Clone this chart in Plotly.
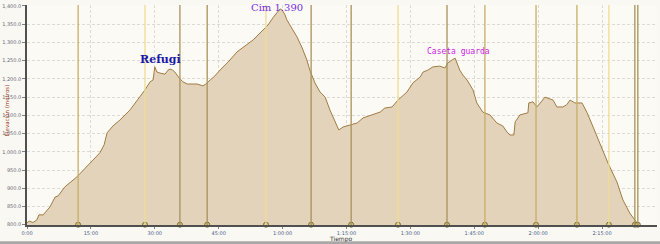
import plotly.graph_objects as go

# Elevation profile: time (minutes) and elevation (m)
time_min = [0, 0.5, 1.4, 2.3, 2.8, 3.8, 5.4, 6.6, 7.3, 8.9, 11.7, 14.8, 17.1, 18.1, 18.8, 20.2, 21.8,
            24.2, 26.5, 27.7, 28.9, 29.6, 30.0, 30.5, 31.2, 32.4, 33.1, 33.6, 34.2, 34.7, 35.7, 36.6,
            37.6, 39.9, 41.3, 42.0, 43.0, 44.1, 45.3, 47.2, 49.3, 51.2, 53.1, 55.4, 56.6, 57.7, 58.9,
            59.4, 59.9, 60.6, 61.0, 62.2, 63.4, 64.6, 65.7, 66.4, 67.6, 68.8, 70.0, 71.1, 72.3, 73.2,
            74.2, 75.8, 77.5, 78.9, 81.0, 82.9, 84.0, 85.7, 87.1, 89.2, 90.6, 92.3, 93.0, 94.1, 95.3,
            96.9, 98.1, 98.8, 99.8, 100.5, 101.6, 102.3, 103.3, 104.0, 104.7, 105.6, 107.0, 108.7,
            110.3, 111.7, 112.7, 113.4, 114.3, 114.6, 115.7, 117.6, 117.8, 118.8, 119.7, 120.7, 121.6,
            123.5, 124.4, 125.8, 126.7, 127.5, 128.6, 130.3, 131.5, 132.9, 134.5, 136.4, 138.5, 139.9,
            141.5, 143.2]
elevation = [805, 810, 806, 813, 827, 827, 849, 876, 879, 904, 931, 969, 997, 1019, 1052, 1071, 1087,
             1115, 1150, 1170, 1192, 1197, 1233, 1219, 1216, 1213, 1224, 1227, 1224, 1219, 1203, 1192,
             1186, 1186, 1181, 1186, 1197, 1208, 1224, 1246, 1274, 1290, 1307, 1334, 1348, 1367, 1384,
             1392, 1389, 1375, 1362, 1340, 1315, 1285, 1252, 1224, 1189, 1164, 1150, 1115, 1082, 1060,
             1068, 1074, 1079, 1093, 1101, 1109, 1120, 1123, 1142, 1164, 1189, 1205, 1219, 1224, 1233,
             1235, 1230, 1244, 1252, 1257, 1224, 1211, 1197, 1184, 1170, 1134, 1109, 1101,
             1079, 1071, 1054, 1046, 1046, 1082, 1101, 1107, 1134, 1137, 1123, 1137, 1150,
             1142, 1123, 1123, 1129, 1142, 1134, 1134, 1107, 1068, 1024, 969, 917, 868,
             832, 805]

# Waypoints (minutes) and their line tone
waypoint_times = [12.0, 27.7, 35.9, 42.3, 56.1, 66.7, 76.1, 87.1, 98.6, 107.5, 119.5, 129.1, 136.6, 142.7, 143.4]
waypoint_tone = ["mid", "light", "dark", "dark", "light", "dark", "dark", "light", "dark", "mid", "mid", "mid", "light", "dark", "dark"]

x_tickvals = [0, 15, 30, 45, 60, 75, 90, 105, 120, 135]
x_ticktext = ["0:00", "15:00", "30:00", "45:00", "1:00:00", "1:15:00", "1:30:00", "1:45:00", "2:00:00", "2:15:00"]
y_tickvals = [800, 850, 900, 950, 1000, 1050, 1100, 1150, 1200, 1250, 1300, 1350, 1400]

labels = ["<b>Refugi</b>", "Cim 1.390", "Caseta guarda"]
label_x = [31.4, 58.7, 101.2]
label_y = [1252, 1397, 1274]

tone_colors = {"light": "#f0dc92", "mid": "#c8ae66", "dark": "#a8925a"}

fig = go.Figure()

fig.add_trace(go.Scatter(
    x=time_min, y=elevation, mode="lines", fill="tozeroy",
    fillcolor="#e2d3ba", line=dict(color="#a27c42", width=1), hoverinfo="skip"))

for t, tone in zip(waypoint_times, waypoint_tone):
    fig.add_shape(type="line", xref="x", yref="paper", x0=t, x1=t, y0=0, y1=1,
                  line=dict(color=tone_colors[tone], width=1.3), layer="above")

fig.add_trace(go.Scatter(
    x=waypoint_times, y=[800] * len(waypoint_times), mode="markers",
    marker=dict(size=5, color="#d8c474", line=dict(color="#7c6c3c", width=1)),
    cliponaxis=False, hoverinfo="skip"))

label_styles = [
    dict(family="DejaVu Serif", size=11, color="#1a1aa8"),
    dict(family="DejaVu Serif", size=10, color="#7a2ee0"),
    dict(family="DejaVu Sans Mono", size=8, color="#cc22e6"),
]
for txt, lx, ly, st in zip(labels, label_x, label_y, label_styles):
    fig.add_annotation(x=lx, y=ly, text=txt, showarrow=False, font=st,
                       xanchor="center", yanchor="middle")

fig.add_annotation(xref="paper", yref="paper", x=0.498, y=-0.065, text="Tiempo", showarrow=False,
                   font=dict(family="DejaVu Sans", size=6, color="#303030"), xanchor="center", yanchor="middle")
fig.add_annotation(xref="paper", yref="paper", x=-0.032, y=0.52, text="Elevación (metros)", showarrow=False,
                   textangle=-90, font=dict(family="DejaVu Sans", size=5.5, color="#a03818"),
                   xanchor="center", yanchor="middle")

# window frame bar at bottom
fig.add_shape(type="rect", xref="paper", yref="paper", x0=-0.05, x1=1.01, y0=-0.074, y1=-0.09,
              fillcolor="#a8a8a8", line=dict(width=0), layer="above")

fig.update_layout(
    width=660, height=244,
    margin=dict(l=27, r=3, t=5, b=19),
    paper_bgcolor="#f9f8f2", plot_bgcolor="#fbfaf4",
    showlegend=False,
    xaxis=dict(range=[0, 147.9], tickvals=x_tickvals, ticktext=x_ticktext,
               showgrid=True, gridcolor="#dddbd2", griddash="3px,2px", gridwidth=1,
               showline=True, linecolor="#505050", linewidth=1.5,
               ticks="outside", ticklen=2, tickcolor="#808080",
               tickfont=dict(family="DejaVu Sans", size=5, color="#4a5a8a"), zeroline=False),
    yaxis=dict(range=[799.2, 1402.7], tickvals=y_tickvals, tickformat=",.1f",
               showgrid=True, gridcolor="#dddbd2", griddash="3px,2px", gridwidth=1,
               showline=True, linecolor="#505050", linewidth=1.5,
               ticks="outside", ticklen=3, tickcolor="#808080",
               tickfont=dict(family="DejaVu Sans", size=5, color="#6a6a7a"), zeroline=False),
)

fig.write_html("out.html")
